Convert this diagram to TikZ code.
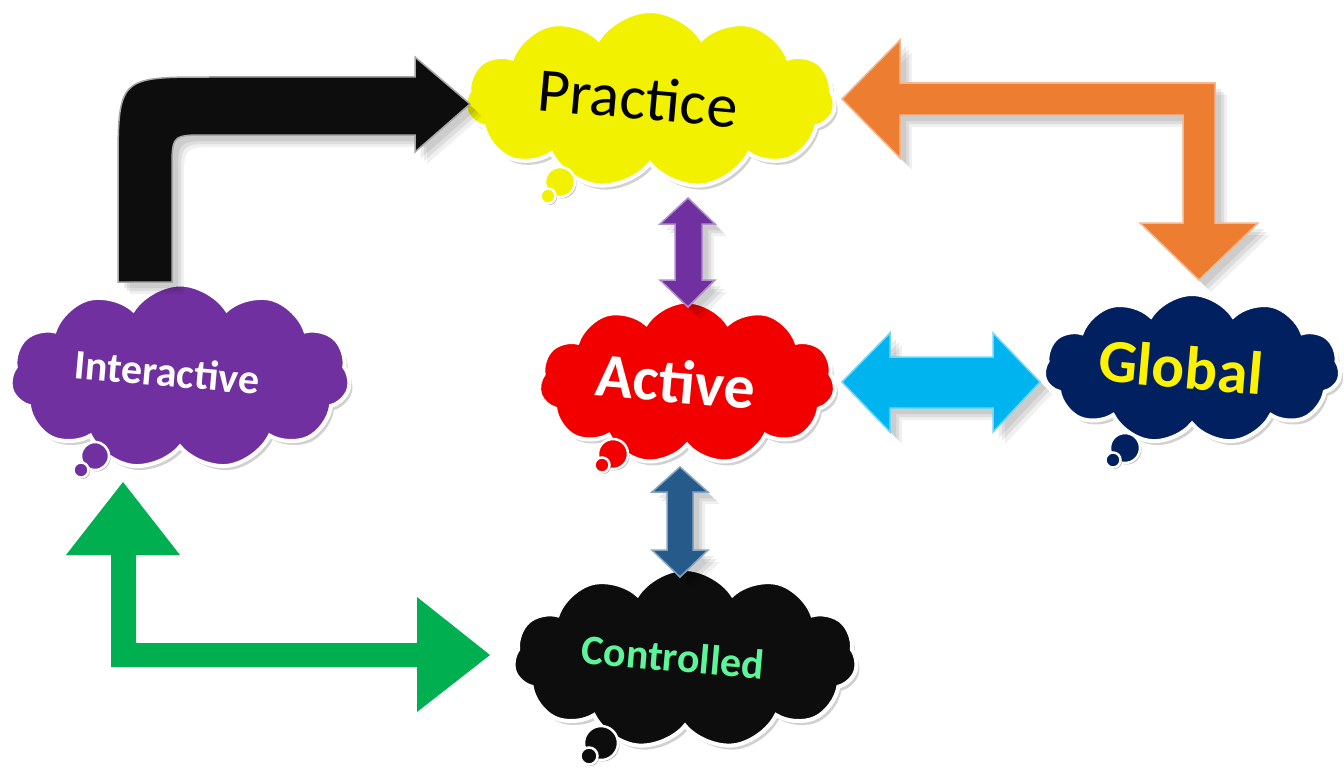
\documentclass[tikz,border=0pt]{standalone}
\usepackage{fontspec}
\setmainfont{Carlito}
\usetikzlibrary{shapes.symbols,shadows}
\definecolor{cyellow}{HTML}{F2F200}
\definecolor{cpurple}{HTML}{7030A0}
\definecolor{cred}{HTML}{F20000}
\definecolor{cnavy}{HTML}{002060}
\definecolor{cblack}{HTML}{0D0D0D}
\definecolor{cmint}{HTML}{5CF59A}
\definecolor{corange}{HTML}{ED7D31}
\definecolor{ccyan}{HTML}{00B4F0}
\definecolor{cdblue}{HTML}{255A8A}
\definecolor{cgreen}{HTML}{00B050}
\tikzset{
  cloudnode/.style={cloud, cloud puffs=11, cloud puff arc=115, aspect=2, draw=white, line width=4pt, inner sep=0pt,
    drop shadow={shadow xshift=3pt, shadow yshift=-4pt, opacity=.18, fill=black}},
  bubble/.style={circle, draw=white, line width=2.5pt, inner sep=0pt,
    drop shadow={shadow xshift=1.5pt, shadow yshift=-1.5pt, opacity=.3, fill=black}},
  lbl/.style={rotate=-5, inner sep=0pt},
  softshadow/.style={
    drop shadow={shadow xshift=6pt, shadow yshift=-6pt, opacity=.08, fill=black},
    drop shadow={shadow xshift=9pt, shadow yshift=-9pt, opacity=.08, fill=black},
    drop shadow={shadow xshift=12pt, shadow yshift=-12pt, opacity=.06, fill=black}},
  blockarrow/.style={line width=1.5pt, line join=miter, softshadow},
}
\begin{document}
\begin{tikzpicture}[x=1pt,y=-1pt]
\useasboundingbox (0,0) rectangle (1344,768);

% clouds
\node[cloudnode, fill=cyellow, minimum width=370pt, minimum height=178pt] (practice) at (650,100) {};
\node[cloudnode, fill=cpurple, minimum width=340pt, minimum height=185pt] (interactive) at (180,377) {};
\node[cloudnode, fill=cred, minimum width=297pt, minimum height=163pt] (active) at (687,383) {};
\node[cloudnode, fill=cnavy, minimum width=297pt, minimum height=150pt] (global) at (1192,369) {};
\node[cloudnode, fill=cblack, minimum width=344pt, minimum height=180pt] (controlled) at (685,659) {};

% thought bubbles
\node[bubble, fill=cyellow, minimum size=30pt] (pb1) at (560,182) {};
\node[bubble, fill=cyellow, minimum size=15pt] (pb2) at (548,196) {};
\node[bubble, fill=cpurple, minimum size=28pt] (ib1) at (95,456) {};
\node[bubble, fill=cpurple, minimum size=15pt] (ib2) at (81,470) {};
\node[bubble, fill=cred, minimum size=30pt] (ab1) at (613,454) {};
\node[bubble, fill=cred, minimum size=15pt] (ab2) at (602,465) {};
\node[bubble, fill=cnavy, minimum size=30pt] (gb1) at (1125,448) {};
\node[bubble, fill=cnavy, minimum size=15pt] (gb2) at (1113,460) {};
\node[bubble, fill=cblack, minimum size=34pt] (cb1) at (601,743) {};
\node[bubble, fill=cblack, minimum size=17pt] (cb2) at (589,756) {};

% labels
\node[lbl, text=black, font=\fontsize{62}{70}\selectfont] (tpractice) at (638,98) {Practice};
\node[lbl, text=white, font=\bfseries\fontsize{42}{50}\selectfont] (tinteractive) at (167,372) {Interactive};
\node[lbl, text=white, font=\bfseries\fontsize{62}{70}\selectfont] (tactive) at (676,381) {Active};
\node[lbl, text=yellow, font=\bfseries\fontsize{61}{70}\selectfont] (tglobal) at (1181,367) {Global};
\node[lbl, text=cmint, font=\bfseries\fontsize{42}{50}\selectfont] (tcontrolled) at (673,657) {Controlled};

% black bent arrow Interactive -> Practice
\path[blockarrow, fill=cblack, draw=gray!70] (118,282) -- (118,170) .. controls (118,77) .. (210,77) -- (415,77) -- (415,57) -- (470,104)
  -- (415,152) -- (415,135) -- (207,135) .. controls (172,135) .. (172,170) -- (172,282) -- cycle;

% orange arrow Global <-> Practice
\path[blockarrow, fill=corange, draw=corange!55!white] (842,99) -- (900,40) -- (900,83) -- (1215,83) -- (1215,223) -- (1258,223)
  -- (1199,280) -- (1140,223) -- (1183,223) -- (1183,115) -- (900,115) -- (900,158) -- cycle;

% purple vertical double arrow
\path[blockarrow, fill=cpurple, draw=cpurple!55!white] (688,198) -- (715,224) -- (702,224) -- (702,280) -- (715,280) -- (688,307)
  -- (660,280) -- (675,280) -- (675,224) -- (660,224) -- cycle;

% cyan horizontal double arrow
\path[blockarrow, fill=ccyan, draw=ccyan!55!white] (842,382) -- (890,333) -- (890,357) -- (993,357) -- (993,333) -- (1040,382)
  -- (993,432) -- (993,408) -- (890,408) -- (890,432) -- cycle;

% dark blue vertical double arrow
\path[blockarrow, fill=cdblue, draw=cdblue!55!white] (680,467) -- (708,492) -- (693,492) -- (693,550) -- (708,550) -- (680,577)
  -- (652,550) -- (667,550) -- (667,492) -- (652,492) -- cycle;

% green bent double arrow
\path[fill=cgreen] (123,482) -- (180,555) -- (136,555) -- (136,643) -- (417,643) -- (417,597) -- (490,655) -- (417,712)
  -- (417,667) -- (111,667) -- (111,555) -- (66,555) -- cycle;
\end{tikzpicture}
\end{document}
